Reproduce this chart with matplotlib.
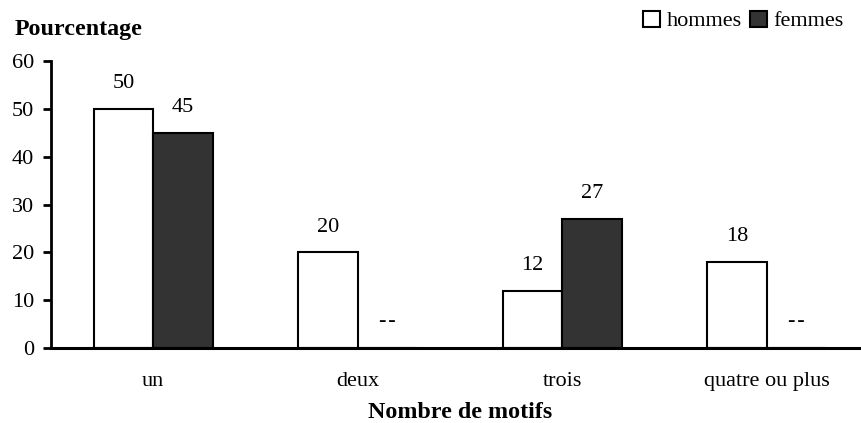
import numpy as np
import matplotlib
matplotlib.use("Agg")
import matplotlib.pyplot as plt

categories = ["un", "deux", "trois", "quatre ou plus"]
hommes = [50, 20, 12, 18]
femmes = [45, np.nan, 27, np.nan]
yticks = [0, 10, 20, 30, 40, 50, 60]
missing_label = "-\u200a-"

plt.rcParams['font.family'] = ['Liberation Serif', 'DejaVu Serif']

fig = plt.figure(figsize=(8.62, 4.23), dpi=100)
ax = fig.add_axes([51/862, 1-348/423, (869-51)/862, (348-61)/423])

x = np.arange(len(categories))
w = 0.29
fem_vals = np.nan_to_num(np.array(femmes, dtype=float))
ax.bar(x - w/2, hommes, w, color='white', edgecolor='black', linewidth=1.5, label='hommes', zorder=2)
ax.bar(x + w/2, fem_vals, w, color='#333333', edgecolor='black', linewidth=1.5, label='femmes', zorder=2)

for xi, v in zip(x - w/2, hommes):
    ax.annotate(f"{v:g}", (xi, v), xytext=(0, 15), textcoords='offset points',
                ha='center', va='baseline', fontsize=16)
for xi, v in zip(x + w/2, femmes):
    if np.isnan(v):
        ax.annotate(missing_label, (xi, 0), xytext=(0, 16), textcoords='offset points',
                    ha='center', va='baseline', fontsize=16)
    else:
        ax.annotate(f"{v:g}", (xi, v), xytext=(0, 15), textcoords='offset points',
                    ha='center', va='baseline', fontsize=16)

ax.set_xlim(-0.5, len(categories) - 0.5)
ax.set_ylim(0, 60)
ax.set_yticks(yticks)
ax.set_xticks(x)
ax.set_xticklabels(categories, fontsize=16)
ax.tick_params(axis='x', length=0, pad=17)
ax.tick_params(axis='y', direction='out', length=6, width=2, pad=6, labelsize=16)
for s in ['top', 'right']:
    ax.spines[s].set_visible(False)
ax.spines['left'].set_linewidth(2)
ax.spines['bottom'].set_linewidth(2.2)

fig.text(460/862, 1-412/423, "Nombre de motifs", ha='center', va='center',
         fontsize=17.3, fontweight='bold')
fig.text(15/862, 1-30/423, "Pourcentage", ha='left', va='center',
         fontsize=17.3, fontweight='bold')

leg = fig.legend(loc='center right', bbox_to_anchor=(844/862, 1-21/423), ncol=2,
                 frameon=False, fontsize=16, handlelength=0.75, handleheight=0.75,
                 handletextpad=0.3, columnspacing=0.4, borderaxespad=0, borderpad=0)

fig.savefig("out.png", dpi=100)
